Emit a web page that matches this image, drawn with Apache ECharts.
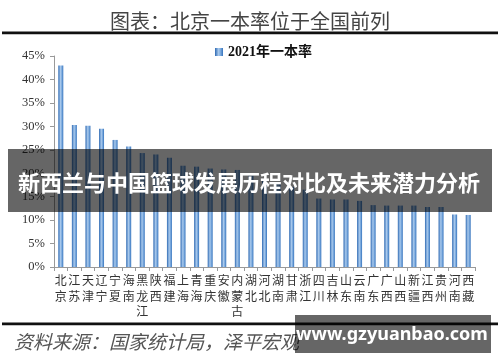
<!DOCTYPE html>
<html>
<head>
<meta charset="utf-8">
<script src="https://cdn.jsdelivr.net/npm/echarts@6/dist/echarts.min.js"></script>
<style>html,body{margin:0;padding:0;background:#fff;}#c{width:500px;height:362px;}</style>
</head>
<body>
<div id="c"></div>
<script>
var categories = ['北京','江苏','天津','辽宁','宁夏','海南','黑龙江','陕西','福建','上海','青海','重庆','安徽','内蒙古','湖北','河北','湖南','甘肃','浙江','四川','吉林','山东','云南','广东','广西','山西','新疆','江西','贵州','河南','西藏'];
var values2021 = [43.0,30.3,30.1,29.5,27.1,25.7,24.3,24.0,23.3,21.6,21.4,21.0,20.8,20.7,19.5,18.6,17.8,17.1,16.5,14.6,14.4,14.4,14.1,13.2,13.1,13.1,13.1,12.8,12.8,11.2,11.1];
var yTicks = [0,5,10,15,20,25,30,35,40,45];
var seriesName = '2021年一本率';
var titleText = '图表：北京一本率位于全国前列';
var sourceText = '资料来源：国家统计局，泽平宏观';
var bannerText = '新西兰与中国篮球发展历程对比及未来潜力分析';
var watermarkText = 'www.gzyuanbao.com';

var chart = echarts.init(document.getElementById('c'));
var barGrad = new echarts.graphic.LinearGradient(0,0,1,0,[
  {offset:0,color:'#2d69b3'},
  {offset:0.45,color:'#a9c9ec'},
  {offset:0.7,color:'#7aa9dd'},
  {offset:1,color:'#3573bd'}
]);
chart.setOption({
  animation:false,
  backgroundColor:'#fff',
  title:{
    text:titleText,left:'center',top:6,
    textStyle:{fontSize:20,fontWeight:'normal',color:'#444',fontFamily:'Noto Sans CJK SC'}
  },
  legend:{
    data:[{name:seriesName,icon:'rect'}],
    left:210,top:40,itemWidth:8,itemHeight:8,itemGap:3,
    textStyle:{fontSize:14,fontWeight:'bold',color:'#111',fontFamily:'Liberation Serif, Noto Sans CJK SC'}
  },
  grid:{left:54,right:25,top:56,bottom:95},
  xAxis:{
    type:'category',data:categories,
    axisLine:{lineStyle:{color:'#999',width:1}},
    axisTick:{show:true,length:4,alignWithLabel:false,lineStyle:{color:'#999'}},
    axisLabel:{
      interval:0,margin:6,fontSize:12,lineHeight:15.5,color:'#333',
      fontFamily:'Noto Sans CJK SC',verticalAlign:'top',
      formatter:function(v){return v.split('').join('\n');}
    }
  },
  yAxis:{
    type:'value',min:0,max:45,interval:5,
    axisLine:{show:true,lineStyle:{color:'#999'}},
    axisTick:{show:true,length:4,lineStyle:{color:'#999'}},
    splitLine:{show:false},
    axisLabel:{margin:9,fontSize:12.5,color:'#333',fontFamily:'Liberation Serif',
      formatter:function(v){return v+'%';}}
  },
  series:[{
    name:seriesName,type:'bar',data:values2021,barWidth:5,
    itemStyle:{color:barGrad}
  }],
  graphic:[
    {type:'rect',shape:{x:2,y:31.5,width:496,height:2.8},style:{fill:'#111'},z:10},
    {type:'rect',shape:{x:2,y:322.5,width:496,height:2.8},style:{fill:'#111'},z:10},
    {type:'text',x:14,y:342,style:{text:sourceText,fontSize:19,fontStyle:'italic',fill:'#555',
      fontFamily:'Noto Sans CJK SC',verticalAlign:'middle'},z:10},
    {type:'rect',shape:{x:8,y:149,width:484,height:63},style:{fill:'rgba(0,0,0,0.6)'},z:100},
    {type:'text',x:249,y:183,style:{text:bannerText,fontSize:22,fontWeight:'bold',fill:'#fff',
      fontFamily:'Noto Sans CJK SC',align:'center',verticalAlign:'middle'},z:101},
    {type:'rect',shape:{x:295,y:315,width:196,height:38},style:{fill:'rgba(0,0,0,0.6)'},z:100},
    {type:'text',x:392,y:335,style:{text:watermarkText,fontSize:18,fontWeight:'bold',fill:'#fff',
      fontFamily:'Noto Sans',align:'center',verticalAlign:'middle'},z:101}
  ]
});
</script>
</body>
</html>
